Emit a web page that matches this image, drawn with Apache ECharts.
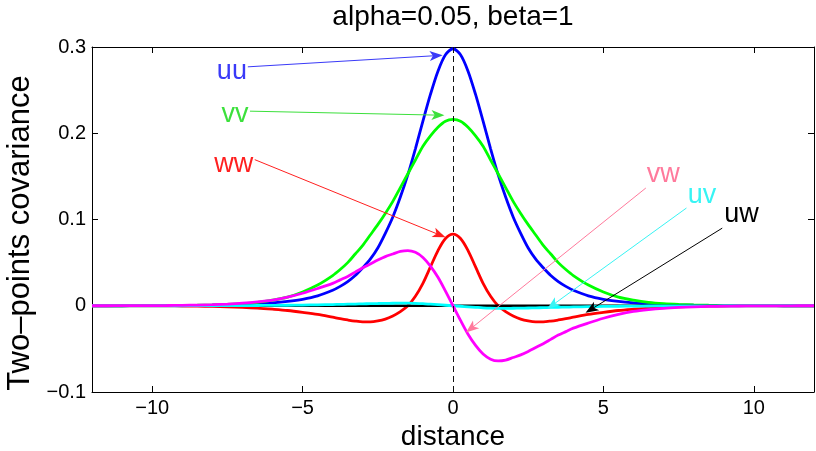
<!DOCTYPE html>
<html>
<head>
<meta charset="utf-8">
<script src="https://cdn.jsdelivr.net/npm/echarts@6/dist/echarts.min.js"></script>
<style>
  html, body { margin: 0; padding: 0; background: #ffffff; }
  #chart { width: 816px; height: 451px; }
</style>
</head>
<body>
<div id="chart"></div>
<script>
// separation distance (abscissa of every curve): coarse tails, finer core
const distance = [-12, -11.5, -11, -10.5, -10, -9.5, -9, -8.5, -8, -7.5, -7, -6.5, -6, -5.5, -5, -4.5,
  -4, -3.75, -3.5, -3.25, -3, -2.75, -2.5, -2.25, -2, -1.75, -1.5, -1.25, -1, -0.75, -0.5, -0.25,
  0, 0.25, 0.5, 0.75, 1, 1.25, 1.5, 1.75, 2, 2.25, 2.5, 2.75, 3, 3.25, 3.5, 3.75, 4,
  4.5, 5, 5.5, 6, 6.5, 7, 7.5, 8, 8.5, 9, 9.5, 10, 10.5, 11, 11.5, 12];

// two-point covariances
const uu = [0, 0, 0, 0.0001, 0.0001, 0.0002, 0.0003, 0.0004, 0.0006, 0.0009, 0.0014, 0.0022, 0.0033, 0.005, 0.0075, 0.0115,
  0.018, 0.0225, 0.028, 0.035, 0.044, 0.054, 0.067, 0.084, 0.103, 0.126, 0.152, 0.182, 0.214, 0.245, 0.272, 0.291,
  0.298, 0.291, 0.272, 0.245, 0.214, 0.182, 0.152, 0.126, 0.103, 0.084, 0.067, 0.054, 0.044, 0.035, 0.028, 0.0225, 0.018,
  0.0115, 0.0075, 0.005, 0.0033, 0.0022, 0.0014, 0.0009, 0.0006, 0.0004, 0.0003, 0.0002, 0.0001, 0.0001, 0, 0, 0];
const vv = [0, 0, 0, 0.0001, 0.0001, 0.0002, 0.0004, 0.0006, 0.001, 0.0016, 0.0025, 0.004, 0.0065, 0.010, 0.016, 0.024,
  0.035, 0.042, 0.050, 0.060, 0.070, 0.082, 0.094, 0.107, 0.121, 0.137, 0.153, 0.169, 0.185, 0.197, 0.207, 0.214,
  0.216, 0.214, 0.207, 0.197, 0.185, 0.169, 0.153, 0.137, 0.121, 0.107, 0.094, 0.082, 0.070, 0.060, 0.050, 0.042, 0.035,
  0.024, 0.016, 0.010, 0.0065, 0.004, 0.0025, 0.0016, 0.001, 0.0006, 0.0004, 0.0002, 0.0001, 0.0001, 0, 0, 0];
const ww = [0, 0, 0, 0, -0.0001, -0.0002, -0.0003, -0.0005, -0.0008, -0.0012, -0.0018, -0.0027, -0.004, -0.0055, -0.0076, -0.010,
  -0.0133, -0.015, -0.0165, -0.0178, -0.0186, -0.0186, -0.0176, -0.0155, -0.0118, -0.0068, 0, 0.011, 0.026, 0.045, 0.064, 0.078,
  0.083, 0.078, 0.064, 0.045, 0.026, 0.011, 0, -0.0068, -0.0118, -0.0155, -0.0176, -0.0186, -0.0186, -0.0178, -0.0165, -0.015, -0.0133,
  -0.010, -0.0076, -0.0055, -0.004, -0.0027, -0.0018, -0.0012, -0.0008, -0.0005, -0.0003, -0.0002, -0.0001, 0, 0, 0, 0];
const vw = [0, 0, 0.0001, 0.0001, 0.0002, 0.0003, 0.0005, 0.0008, 0.0013, 0.002, 0.003, 0.0045, 0.0066, 0.010, 0.0145, 0.020,
  0.026, 0.030, 0.034, 0.039, 0.044, 0.0485, 0.053, 0.057, 0.060, 0.063, 0.064, 0.062, 0.056, 0.046, 0.033, 0.017,
  0, -0.017, -0.033, -0.046, -0.056, -0.062, -0.064, -0.063, -0.060, -0.057, -0.053, -0.0485, -0.044, -0.039, -0.034, -0.030, -0.026,
  -0.020, -0.0145, -0.010, -0.0066, -0.0045, -0.003, -0.002, -0.0013, -0.0008, -0.0005, -0.0003, -0.0002, -0.0001, -0.0001, 0, 0];
const uv = [0, 0, 0, 0, 0, 0, 0, 0.0001, 0.0001, 0.0001, 0.0002, 0.0003, 0.0004, 0.0006, 0.0008, 0.0011,
  0.0014, 0.0016, 0.0018, 0.002, 0.0022, 0.0024, 0.0026, 0.0028, 0.0029, 0.003, 0.003, 0.0028, 0.0024, 0.0018, 0.0012, 0.0006,
  0, -0.0006, -0.0012, -0.0018, -0.0024, -0.0028, -0.003, -0.003, -0.0029, -0.0028, -0.0026, -0.0024, -0.0022, -0.002, -0.0018, -0.0016, -0.0014,
  -0.0011, -0.0008, -0.0006, -0.0004, -0.0003, -0.0002, -0.0001, -0.0001, -0.0001, 0, 0, 0, 0, 0, 0, 0];
const uw = [0, 0, 0, 0, 0, 0, 0, 0, 0, 0, 0, 0, 0, 0, 0, 0,
  0, 0, 0, 0, 0, 0, 0, 0, 0, 0, 0, 0, 0, 0, 0, 0,
  0, 0, 0, 0, 0, 0, 0, 0, 0, 0, 0, 0, 0, 0, 0, 0, 0,
  0, 0, 0, 0, 0, 0, 0, 0, 0, 0, 0, 0, 0, 0, 0, 0];

// axis ticks
const xTicks = [-10, -5, 0, 5, 10];
const yTicks = [-0.1, 0, 0.1, 0.2, 0.3];

// labelled arrows: text centre, arrow tail, arrow head (data units)
const annotations = [
  { name: 'uu', color: '#3a3af8', text: [-7.35, 0.274], from: [-6.82, 0.277], to: [-0.56, 0.290] },
  { name: 'vv', color: '#3ce03c', text: [-7.25, 0.224], from: [-6.75, 0.2256], to: [-0.50, 0.221] },
  { name: 'ww', color: '#ff2020', text: [-7.29, 0.1665], from: [-6.59, 0.1694], to: [-0.45, 0.0822] },
  { name: 'vw', color: '#ff7a9c', text: [6.99, 0.154], from: [6.41, 0.1365], to: [0.60, -0.0263] },
  { name: 'uv', color: '#38f4f4', text: [8.28, 0.130], from: [7.76, 0.1133], to: [3.31, 0.0008] },
  { name: 'uw', color: '#000000', text: [9.59, 0.108], from: [8.95, 0.090], to: [4.59, -0.0042] }
];

const FONT = '"Liberation Sans", Arial, Helvetica, sans-serif';
const ARROW_HEAD = 'path://M0,0 L4,12 L0,9 L-4,12 Z';
const fmt = v => {
  const r = Math.round(v * 1000) / 1000;
  if (r === 0) return '0';
  return (r < 0 ? '\u2212' : '') + String(Math.abs(r));
};
const pair = arr => distance.map((x, i) => [x, arr[i]]);
const curve = (name, arr, color, width, z) => ({
  type: 'line', name, data: pair(arr), symbol: 'none', showSymbol: false,
  smooth: 0.3, lineStyle: { color, width }, z, silent: true
});

const boxAxis = {
  axisLine: { show: true, onZero: false, lineStyle: { color: '#000', width: 1 } },
  splitLine: { show: false }
};

const chart = echarts.init(document.getElementById('chart'));
chart.setOption({
  animation: false,
  backgroundColor: '#ffffff',
  title: {
    text: 'alpha=0.05, beta=1',
    left: 453, top: 3, padding: 0, textAlign: 'center',
    textStyle: { fontFamily: FONT, fontSize: 28, fontWeight: 'normal', color: '#000' }
  },
  grid: { left: 92, right: 2, top: 47, bottom: 59, containLabel: false, outerBoundsMode: 'none' },
  xAxis: [
    Object.assign({
      type: 'value', min: -12, max: 12, position: 'bottom',
      axisTick: { show: true, inside: true, length: 6, customValues: xTicks, lineStyle: { color: '#000' } },
      axisLabel: { customValues: xTicks, formatter: fmt, color: '#000', fontSize: 20, margin: 6, fontFamily: FONT },
      name: 'distance', nameLocation: 'middle', nameGap: 28,
      nameTextStyle: { fontFamily: FONT, fontSize: 28, color: '#000' }
    }, boxAxis),
    Object.assign({
      type: 'value', min: -12, max: 12, position: 'top',
      axisTick: { show: true, inside: true, length: 6, customValues: xTicks, lineStyle: { color: '#000' } },
      axisLabel: { show: false }
    }, boxAxis)
  ],
  yAxis: [
    Object.assign({
      type: 'value', min: -0.1, max: 0.3, position: 'left',
      axisTick: { show: true, inside: true, length: 6, customValues: yTicks, lineStyle: { color: '#000' } },
      axisLabel: { customValues: yTicks, formatter: fmt, color: '#000', fontSize: 20, margin: 6, fontFamily: FONT },
      name: 'Two\u2013points covariance', nameLocation: 'middle', nameGap: 48,
      nameTextStyle: { fontFamily: FONT, fontSize: 31, color: '#000', padding: [0, 27, 0, 0] }
    }, boxAxis),
    Object.assign({
      type: 'value', min: -0.1, max: 0.3, position: 'right',
      axisTick: { show: true, inside: true, length: 6, customValues: yTicks, lineStyle: { color: '#000' } },
      axisLabel: { show: false }
    }, boxAxis)
  ],
  series: [
    curve('uu', uu, '#0000ff', 2.8, 2),
    curve('vv', vv, '#00ff00', 2.8, 2),
    curve('ww', ww, '#ff0000', 2.8, 2),
    curve('uw', uw, '#000000', 2.4, 2),
    curve('uv', uv, '#00ffff', 2.8, 2),
    curve('vw', vw, '#ff00ff', 2.8, 2),
    {
      // dashed marker at zero separation
      type: 'line', data: [], z: 4, silent: true,
      markLine: {
        silent: true, animation: false, symbol: 'none',
        label: { show: false },
        lineStyle: { color: '#111', width: 1, type: [6, 4] },
        data: [{ xAxis: 0 }]
      }
    },
    {
      // arrows and their labels
      type: 'line', data: [], z: 5, silent: true,
      markLine: {
        silent: true, animation: false, symbol: ['none', ARROW_HEAD], symbolSize: [0, 13],
        label: { show: false },
        data: annotations.map(a => [
          { coord: a.from, lineStyle: { color: a.color, width: 1, type: 'solid' } },
          { coord: a.to, symbol: ARROW_HEAD, symbolSize: [10, 13] }
        ])
      },
      markPoint: {
        silent: true, animation: false,
        data: annotations.map(a => ({
          coord: a.text, symbol: 'rect', symbolSize: 1,
          itemStyle: { color: 'rgba(0,0,0,0)' },
          label: {
            show: true, position: 'inside', formatter: a.name, offset: [0, 2],
            color: a.color, fontSize: 27, fontFamily: FONT
          }
        }))
      }
    }
  ]
});
</script>
</body>
</html>
